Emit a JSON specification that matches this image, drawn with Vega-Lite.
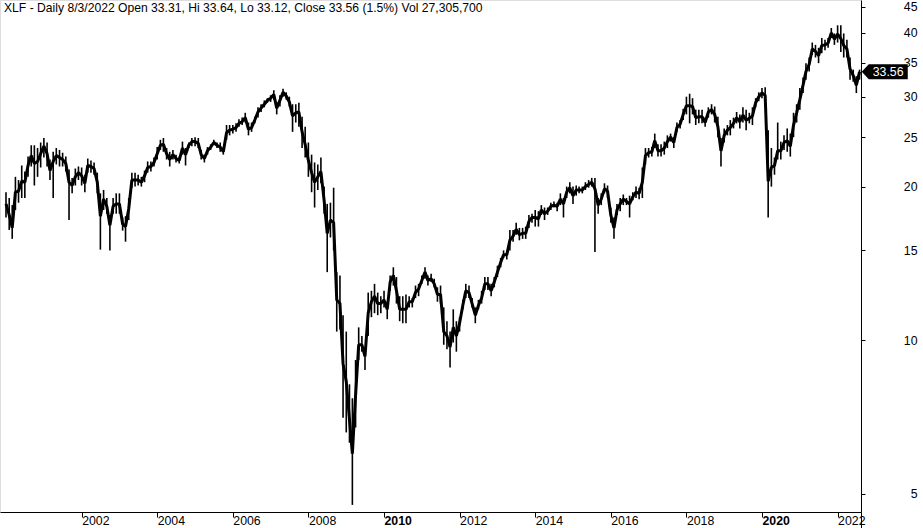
{
  "$schema": "https://vega.github.io/schema/vega-lite/v6.json",
  "width": 861,
  "height": 512,
  "autosize": {"type": "none"},
  "padding": {"left": 0, "top": 0, "right": 62, "bottom": 16},
  "background": "white",
  "title": {
    "text": "XLF - Daily 8/3/2022 Open 33.31, Hi 33.64, Lo 33.12, Close 33.56 (1.5%) Vol 27,305,700",
    "anchor": "start",
    "frame": "group",
    "dx": 4,
    "offset": -14,
    "font": "Liberation Sans",
    "fontSize": 12.15,
    "fontWeight": "normal",
    "color": "black"
  },
  "data": {"values": [
    {"date":"2000-01-01","high":19.5,"low":17.4,"close":18.5},
    {"date":"2000-02-01","high":19.0,"low":16.45,"close":17.6},
    {"date":"2000-03-01","high":18.4,"low":15.8,"close":16.6},
    {"date":"2000-04-01","high":20.9,"low":18.0,"close":19.5},
    {"date":"2000-05-01","high":20.6,"low":18.6,"close":19.6},
    {"date":"2000-06-01","high":22.0,"low":19.0,"close":20.5},
    {"date":"2000-07-01","high":21.4,"low":19.0,"close":20.4},
    {"date":"2000-08-01","high":22.9,"low":20.9,"close":22.0},
    {"date":"2000-09-01","high":24.1,"low":21.9,"close":23.0},
    {"date":"2000-10-01","high":24.1,"low":20.1,"close":22.2},
    {"date":"2000-11-01","high":23.8,"low":20.9,"close":22.4},
    {"date":"2000-12-01","high":24.4,"low":21.8,"close":23.2},
    {"date":"2001-01-01","high":24.9,"low":22.8,"close":24.0},
    {"date":"2001-02-01","high":24.4,"low":21.9,"close":23.2},
    {"date":"2001-03-01","high":22.6,"low":20.6,"close":21.5},
    {"date":"2001-04-01","high":23.4,"low":19.0,"close":22.4},
    {"date":"2001-05-01","high":23.8,"low":22.1,"close":23.0},
    {"date":"2001-06-01","high":23.6,"low":21.9,"close":22.8},
    {"date":"2001-07-01","high":23.3,"low":21.9,"close":22.6},
    {"date":"2001-08-01","high":22.9,"low":21.4,"close":22.2},
    {"date":"2001-09-01","high":21.6,"low":17.2,"close":20.4},
    {"date":"2001-10-01","high":20.8,"low":19.4,"close":20.1},
    {"date":"2001-11-01","high":21.7,"low":20.1,"close":20.9},
    {"date":"2001-12-01","high":21.9,"low":20.6,"close":21.3},
    {"date":"2002-01-01","high":21.8,"low":20.1,"close":21.0},
    {"date":"2002-02-01","high":21.1,"low":19.5,"close":20.3},
    {"date":"2002-03-01","high":22.7,"low":21.3,"close":22.0},
    {"date":"2002-04-01","high":22.5,"low":21.3,"close":21.9},
    {"date":"2002-05-01","high":22.3,"low":21.1,"close":21.7},
    {"date":"2002-06-01","high":21.3,"low":19.4,"close":20.4},
    {"date":"2002-07-01","high":19.4,"low":15.05,"close":17.5},
    {"date":"2002-08-01","high":19.7,"low":18.0,"close":18.9},
    {"date":"2002-09-01","high":19.0,"low":17.7,"close":18.3},
    {"date":"2002-10-01","high":17.6,"low":15.0,"close":16.8},
    {"date":"2002-11-01","high":19.0,"low":17.7,"close":18.3},
    {"date":"2002-12-01","high":19.4,"low":17.7,"close":18.5},
    {"date":"2003-01-01","high":19.4,"low":17.7,"close":18.5},
    {"date":"2003-02-01","high":17.4,"low":16.4,"close":16.9},
    {"date":"2003-03-01","high":17.5,"low":15.6,"close":16.7},
    {"date":"2003-04-01","high":19.0,"low":17.2,"close":18.1},
    {"date":"2003-05-01","high":21.3,"low":19.9,"close":20.6},
    {"date":"2003-06-01","high":21.3,"low":20.0,"close":20.6},
    {"date":"2003-07-01","high":21.1,"low":20.1,"close":20.6},
    {"date":"2003-08-01","high":20.9,"low":20.0,"close":20.4},
    {"date":"2003-09-01","high":21.5,"low":20.4,"close":21.0},
    {"date":"2003-10-01","high":22.4,"low":21.3,"close":21.8},
    {"date":"2003-11-01","high":22.4,"low":21.4,"close":21.9},
    {"date":"2003-12-01","high":22.8,"low":21.9,"close":22.3},
    {"date":"2004-01-01","high":23.9,"low":22.6,"close":23.2},
    {"date":"2004-02-01","high":24.7,"low":23.6,"close":24.1},
    {"date":"2004-03-01","high":24.9,"low":23.4,"close":24.2},
    {"date":"2004-04-01","high":23.8,"low":22.6,"close":23.2},
    {"date":"2004-05-01","high":23.4,"low":21.9,"close":22.6},
    {"date":"2004-06-01","high":23.6,"low":22.6,"close":23.1},
    {"date":"2004-07-01","high":23.1,"low":22.3,"close":22.7},
    {"date":"2004-08-01","high":22.9,"low":22.2,"close":22.5},
    {"date":"2004-09-01","high":24.5,"low":23.1,"close":23.8},
    {"date":"2004-10-01","high":23.8,"low":22.0,"close":23.1},
    {"date":"2004-11-01","high":24.4,"low":23.8,"close":24.1},
    {"date":"2004-12-01","high":24.9,"low":24.0,"close":24.5},
    {"date":"2005-01-01","high":25.0,"low":24.0,"close":24.5},
    {"date":"2005-02-01","high":24.9,"low":23.8,"close":24.3},
    {"date":"2005-03-01","high":23.6,"low":22.6,"close":23.1},
    {"date":"2005-04-01","high":23.1,"low":22.3,"close":22.7},
    {"date":"2005-05-01","high":23.9,"low":23.1,"close":23.5},
    {"date":"2005-06-01","high":24.2,"low":23.6,"close":23.9},
    {"date":"2005-07-01","high":24.7,"low":24.2,"close":24.4},
    {"date":"2005-08-01","high":24.4,"low":23.8,"close":24.1},
    {"date":"2005-09-01","high":24.4,"low":23.4,"close":23.9},
    {"date":"2005-10-01","high":23.8,"low":23.1,"close":23.4},
    {"date":"2005-11-01","high":26.4,"low":24.7,"close":25.5},
    {"date":"2005-12-01","high":26.4,"low":25.2,"close":25.8},
    {"date":"2006-01-01","high":26.4,"low":25.4,"close":25.9},
    {"date":"2006-02-01","high":26.6,"low":25.6,"close":26.1},
    {"date":"2006-03-01","high":27.1,"low":26.2,"close":26.6},
    {"date":"2006-04-01","high":27.3,"low":26.4,"close":26.8},
    {"date":"2006-05-01","high":27.9,"low":26.7,"close":27.3},
    {"date":"2006-06-01","high":26.7,"low":25.2,"close":25.9},
    {"date":"2006-07-01","high":26.7,"low":25.6,"close":26.1},
    {"date":"2006-08-01","high":27.4,"low":26.6,"close":27.0},
    {"date":"2006-09-01","high":28.6,"low":27.3,"close":28.0},
    {"date":"2006-10-01","high":29.0,"low":28.0,"close":28.5},
    {"date":"2006-11-01","high":29.5,"low":28.6,"close":29.0},
    {"date":"2006-12-01","high":29.8,"low":29.2,"close":29.5},
    {"date":"2007-01-01","high":30.2,"low":29.3,"close":29.8},
    {"date":"2007-02-01","high":30.9,"low":29.6,"close":30.3},
    {"date":"2007-03-01","high":29.3,"low":27.7,"close":28.5},
    {"date":"2007-04-01","high":30.2,"low":28.7,"close":29.5},
    {"date":"2007-05-01","high":31.1,"low":30.0,"close":30.6},
    {"date":"2007-06-01","high":30.6,"low":29.6,"close":30.1},
    {"date":"2007-07-01","high":30.0,"low":28.7,"close":29.3},
    {"date":"2007-08-01","high":29.0,"low":25.6,"close":27.5},
    {"date":"2007-09-01","high":29.0,"low":26.7,"close":27.9},
    {"date":"2007-10-01","high":29.2,"low":26.2,"close":28.0},
    {"date":"2007-11-01","high":27.4,"low":23.8,"close":25.6},
    {"date":"2007-12-01","high":26.2,"low":22.8,"close":24.2},
    {"date":"2008-01-01","high":24.4,"low":20.9,"close":22.5},
    {"date":"2008-02-01","high":23.1,"low":19.5,"close":21.3},
    {"date":"2008-03-01","high":22.3,"low":18.2,"close":20.4},
    {"date":"2008-04-01","high":22.1,"low":19.7,"close":20.9},
    {"date":"2008-05-01","high":22.8,"low":20.3,"close":21.4},
    {"date":"2008-06-01","high":20.0,"low":17.7,"close":18.8},
    {"date":"2008-07-01","high":18.5,"low":13.6,"close":16.2},
    {"date":"2008-08-01","high":18.6,"low":15.9,"close":17.2},
    {"date":"2008-09-01","high":19.9,"low":15.0,"close":17.0},
    {"date":"2008-10-01","high":13.6,"low":10.4,"close":12.0},
    {"date":"2008-11-01","high":13.4,"low":10.5,"close":11.8},
    {"date":"2008-12-01","high":11.2,"low":7.05,"close":9.0},
    {"date":"2009-01-01","high":10.4,"low":6.6,"close":8.3},
    {"date":"2009-02-01","high":8.2,"low":6.3,"close":7.0},
    {"date":"2009-03-01","high":7.7,"low":4.76,"close":6.0},
    {"date":"2009-04-01","high":9.15,"low":6.75,"close":7.8},
    {"date":"2009-05-01","high":10.6,"low":9.15,"close":9.8},
    {"date":"2009-06-01","high":10.2,"low":9.5,"close":9.8},
    {"date":"2009-07-01","high":9.7,"low":8.75,"close":9.3},
    {"date":"2009-08-01","high":12.4,"low":10.2,"close":11.3},
    {"date":"2009-09-01","high":12.5,"low":11.1,"close":11.9},
    {"date":"2009-10-01","high":12.9,"low":11.3,"close":12.2},
    {"date":"2009-11-01","high":12.4,"low":11.2,"close":11.8},
    {"date":"2009-12-01","high":12.2,"low":11.3,"close":11.8},
    {"date":"2010-01-01","high":12.5,"low":11.6,"close":12.0},
    {"date":"2010-02-01","high":11.9,"low":11.0,"close":11.5},
    {"date":"2010-03-01","high":13.4,"low":12.5,"close":13.0},
    {"date":"2010-04-01","high":13.9,"low":12.8,"close":13.4},
    {"date":"2010-05-01","high":13.3,"low":11.8,"close":12.5},
    {"date":"2010-06-01","high":12.2,"low":10.9,"close":11.5},
    {"date":"2010-07-01","high":12.2,"low":10.8,"close":11.5},
    {"date":"2010-08-01","high":12.3,"low":10.8,"close":11.5},
    {"date":"2010-09-01","high":12.2,"low":11.6,"close":11.9},
    {"date":"2010-10-01","high":12.1,"low":11.6,"close":11.9},
    {"date":"2010-11-01","high":12.8,"low":12.1,"close":12.4},
    {"date":"2010-12-01","high":12.9,"low":12.2,"close":12.6},
    {"date":"2011-01-01","high":13.4,"low":12.9,"close":13.1},
    {"date":"2011-02-01","high":13.9,"low":13.2,"close":13.6},
    {"date":"2011-03-01","high":13.4,"low":12.8,"close":13.1},
    {"date":"2011-04-01","high":13.5,"low":13.0,"close":13.2},
    {"date":"2011-05-01","high":13.2,"low":12.7,"close":12.9},
    {"date":"2011-06-01","high":12.7,"low":11.9,"close":12.3},
    {"date":"2011-07-01","high":12.8,"low":11.8,"close":12.3},
    {"date":"2011-08-01","high":11.6,"low":9.8,"close":10.4},
    {"date":"2011-09-01","high":10.9,"low":9.6,"close":10.2},
    {"date":"2011-10-01","high":10.4,"low":8.85,"close":9.7},
    {"date":"2011-11-01","high":11.5,"low":9.9,"close":10.6},
    {"date":"2011-12-01","high":10.9,"low":9.5,"close":10.2},
    {"date":"2012-01-01","high":11.1,"low":10.4,"close":10.8},
    {"date":"2012-02-01","high":12.0,"low":11.5,"close":11.7},
    {"date":"2012-03-01","high":12.9,"low":12.1,"close":12.5},
    {"date":"2012-04-01","high":12.8,"low":12.1,"close":12.4},
    {"date":"2012-05-01","high":12.1,"low":11.6,"close":11.8},
    {"date":"2012-06-01","high":11.6,"low":10.8,"close":11.2},
    {"date":"2012-07-01","high":12.0,"low":11.5,"close":11.7},
    {"date":"2012-08-01","high":12.5,"low":11.8,"close":12.1},
    {"date":"2012-09-01","high":13.3,"low":12.55,"close":12.9},
    {"date":"2012-10-01","high":13.3,"low":12.55,"close":12.9},
    {"date":"2012-11-01","high":12.9,"low":12.2,"close":12.5},
    {"date":"2012-12-01","high":13.3,"low":12.7,"close":13.0},
    {"date":"2013-01-01","high":14.0,"low":13.3,"close":13.6},
    {"date":"2013-02-01","high":14.5,"low":13.9,"close":14.2},
    {"date":"2013-03-01","high":15.0,"low":14.5,"close":14.7},
    {"date":"2013-04-01","high":15.0,"low":14.4,"close":14.7},
    {"date":"2013-05-01","high":16.45,"low":15.0,"close":15.7},
    {"date":"2013-06-01","high":16.45,"low":15.6,"close":16.0},
    {"date":"2013-07-01","high":17.0,"low":16.1,"close":16.5},
    {"date":"2013-08-01","high":16.6,"low":15.7,"close":16.1},
    {"date":"2013-09-01","high":16.6,"low":15.8,"close":16.2},
    {"date":"2013-10-01","high":16.7,"low":15.8,"close":16.2},
    {"date":"2013-11-01","high":17.6,"low":16.6,"close":17.1},
    {"date":"2013-12-01","high":17.7,"low":17.0,"close":17.4},
    {"date":"2014-01-01","high":18.0,"low":16.7,"close":17.4},
    {"date":"2014-02-01","high":17.9,"low":16.7,"close":17.3},
    {"date":"2014-03-01","high":18.4,"low":17.6,"close":18.0},
    {"date":"2014-04-01","high":18.2,"low":17.2,"close":17.7},
    {"date":"2014-05-01","high":18.2,"low":17.6,"close":17.9},
    {"date":"2014-06-01","high":18.6,"low":18.0,"close":18.3},
    {"date":"2014-07-01","high":18.7,"low":18.2,"close":18.4},
    {"date":"2014-08-01","high":18.6,"low":17.9,"close":18.3},
    {"date":"2014-09-01","high":19.4,"low":18.4,"close":18.9},
    {"date":"2014-10-01","high":19.0,"low":17.4,"close":18.5},
    {"date":"2014-11-01","high":20.0,"low":19.0,"close":19.5},
    {"date":"2014-12-01","high":20.4,"low":19.4,"close":19.9},
    {"date":"2015-01-01","high":20.0,"low":18.5,"close":19.2},
    {"date":"2015-02-01","high":20.1,"low":19.2,"close":19.7},
    {"date":"2015-03-01","high":20.0,"low":19.4,"close":19.7},
    {"date":"2015-04-01","high":20.0,"low":19.4,"close":19.7},
    {"date":"2015-05-01","high":20.4,"low":19.7,"close":20.0},
    {"date":"2015-06-01","high":20.6,"low":19.9,"close":20.2},
    {"date":"2015-07-01","high":20.8,"low":20.0,"close":20.4},
    {"date":"2015-08-01","high":20.8,"low":14.9,"close":19.8},
    {"date":"2015-09-01","high":19.0,"low":17.7,"close":18.4},
    {"date":"2015-10-01","high":19.4,"low":18.4,"close":18.9},
    {"date":"2015-11-01","high":20.3,"low":19.4,"close":19.8},
    {"date":"2015-12-01","high":20.1,"low":19.0,"close":19.6},
    {"date":"2016-01-01","high":18.2,"low":17.0,"close":17.6},
    {"date":"2016-02-01","high":17.4,"low":15.8,"close":16.6},
    {"date":"2016-03-01","high":18.5,"low":17.6,"close":18.0},
    {"date":"2016-04-01","high":19.0,"low":17.9,"close":18.5},
    {"date":"2016-05-01","high":19.3,"low":18.4,"close":18.9},
    {"date":"2016-06-01","high":19.0,"low":18.4,"close":18.7},
    {"date":"2016-07-01","high":19.2,"low":17.4,"close":18.5},
    {"date":"2016-08-01","high":19.5,"low":18.8,"close":19.1},
    {"date":"2016-09-01","high":20.0,"low":19.0,"close":19.5},
    {"date":"2016-10-01","high":19.9,"low":18.9,"close":19.4},
    {"date":"2016-11-01","high":21.8,"low":19.0,"close":20.4},
    {"date":"2016-12-01","high":23.8,"low":22.1,"close":23.0},
    {"date":"2017-01-01","high":23.8,"low":22.8,"close":23.3},
    {"date":"2017-02-01","high":23.9,"low":22.9,"close":23.4},
    {"date":"2017-03-01","high":25.4,"low":23.8,"close":24.6},
    {"date":"2017-04-01","high":24.2,"low":22.9,"close":23.5},
    {"date":"2017-05-01","high":24.2,"low":22.9,"close":23.5},
    {"date":"2017-06-01","high":24.5,"low":23.1,"close":23.8},
    {"date":"2017-07-01","high":25.2,"low":23.8,"close":24.5},
    {"date":"2017-08-01","high":25.4,"low":24.5,"close":25.0},
    {"date":"2017-09-01","high":25.0,"low":23.8,"close":24.4},
    {"date":"2017-10-01","high":26.7,"low":25.6,"close":26.1},
    {"date":"2017-11-01","high":27.0,"low":26.0,"close":26.5},
    {"date":"2017-12-01","high":28.4,"low":27.0,"close":27.7},
    {"date":"2018-01-01","high":30.0,"low":27.7,"close":28.8},
    {"date":"2018-02-01","high":30.4,"low":26.6,"close":28.8},
    {"date":"2018-03-01","high":29.8,"low":27.7,"close":28.7},
    {"date":"2018-04-01","high":28.3,"low":26.4,"close":27.3},
    {"date":"2018-05-01","high":28.3,"low":26.6,"close":27.4},
    {"date":"2018-06-01","high":28.3,"low":26.6,"close":27.4},
    {"date":"2018-07-01","high":27.3,"low":26.2,"close":26.7},
    {"date":"2018-08-01","high":28.6,"low":27.3,"close":28.0},
    {"date":"2018-09-01","high":29.0,"low":27.7,"close":28.3},
    {"date":"2018-10-01","high":28.7,"low":26.7,"close":27.7},
    {"date":"2018-11-01","high":27.4,"low":25.0,"close":26.2},
    {"date":"2018-12-01","high":24.9,"low":21.9,"close":23.5},
    {"date":"2019-01-01","high":26.0,"low":24.4,"close":25.2},
    {"date":"2019-02-01","high":26.4,"low":25.2,"close":25.8},
    {"date":"2019-03-01","high":27.0,"low":25.2,"close":26.1},
    {"date":"2019-04-01","high":27.3,"low":26.0,"close":26.6},
    {"date":"2019-05-01","high":28.0,"low":26.6,"close":27.3},
    {"date":"2019-06-01","high":27.7,"low":26.0,"close":26.8},
    {"date":"2019-07-01","high":28.6,"low":26.7,"close":27.6},
    {"date":"2019-08-01","high":28.3,"low":25.8,"close":27.0},
    {"date":"2019-09-01","high":27.9,"low":26.6,"close":27.2},
    {"date":"2019-10-01","high":28.6,"low":26.4,"close":27.5},
    {"date":"2019-11-01","high":29.8,"low":28.6,"close":29.2},
    {"date":"2019-12-01","high":30.6,"low":29.4,"close":30.0},
    {"date":"2020-01-01","high":31.2,"low":29.8,"close":30.5},
    {"date":"2020-02-01","high":31.3,"low":28.6,"close":30.2},
    {"date":"2020-03-01","high":25.8,"low":17.4,"close":20.5},
    {"date":"2020-04-01","high":23.8,"low":20.0,"close":21.8},
    {"date":"2020-05-01","high":22.8,"low":21.1,"close":22.0},
    {"date":"2020-06-01","high":26.7,"low":22.6,"close":23.5},
    {"date":"2020-07-01","high":24.5,"low":22.6,"close":23.5},
    {"date":"2020-08-01","high":25.2,"low":23.6,"close":24.4},
    {"date":"2020-09-01","high":26.0,"low":23.4,"close":24.6},
    {"date":"2020-10-01","high":25.4,"low":22.9,"close":24.0},
    {"date":"2020-11-01","high":27.9,"low":25.0,"close":26.4},
    {"date":"2020-12-01","high":29.0,"low":26.7,"close":27.9},
    {"date":"2021-01-01","high":31.2,"low":28.3,"close":29.6},
    {"date":"2021-02-01","high":32.7,"low":30.5,"close":31.6},
    {"date":"2021-03-01","high":34.9,"low":32.4,"close":33.6},
    {"date":"2021-04-01","high":35.8,"low":33.6,"close":34.7},
    {"date":"2021-05-01","high":38.3,"low":36.2,"close":37.2},
    {"date":"2021-06-01","high":37.9,"low":35.8,"close":36.8},
    {"date":"2021-07-01","high":37.4,"low":34.9,"close":36.1},
    {"date":"2021-08-01","high":39.1,"low":36.5,"close":37.8},
    {"date":"2021-09-01","high":38.8,"low":37.0,"close":37.9},
    {"date":"2021-10-01","high":39.1,"low":37.4,"close":38.2},
    {"date":"2021-11-01","high":40.9,"low":39.1,"close":40.0},
    {"date":"2021-12-01","high":39.9,"low":37.9,"close":38.9},
    {"date":"2022-01-01","high":41.4,"low":38.3,"close":39.8},
    {"date":"2022-02-01","high":41.4,"low":36.7,"close":39.0},
    {"date":"2022-03-01","high":39.9,"low":35.8,"close":37.8},
    {"date":"2022-04-01","high":38.8,"low":35.8,"close":37.2},
    {"date":"2022-05-01","high":35.8,"low":32.4,"close":34.0},
    {"date":"2022-06-01","high":33.9,"low":32.1,"close":33.0},
    {"date":"2022-07-01","high":32.9,"low":30.5,"close":31.6},
    {"date":"2022-08-01","high":33.9,"low":32.4,"close":33.56}
  ]},
  "encoding": {
    "x": {
      "field": "date",
      "type": "temporal",
      "title": null,
      "scale": {"domain": ["1999-11-04", "2022-08-15"]},
      "axis": {
        "values": ["2002-01-01","2004-01-01","2006-01-01","2008-01-01","2010-01-01","2012-01-01","2014-01-01","2016-01-01","2018-01-01","2020-01-01","2022-01-01","2022-08-15"],
        "format": "%Y",
        "labelExpr": "year(datum.value) == 2022 && month(datum.value) > 5 ? '' : datum.label",
        "grid": false,
        "domainColor": "black",
        "tickColor": "black",
        "tickSize": {"condition": {"test": "year(datum.value) == 2022 && month(datum.value) > 5", "value": 16}, "value": 5},
        "labelAlign": "left",
        "labelBaseline": "top",
        "labelPadding": -3,
        "labelFlush": false,
        "labelOverlap": false,
        "labelDx": 3,
        "labelFont": "Liberation Sans",
        "labelFontSize": 12.3,
        "labelColor": "black",
        "labelFontWeight": {"condition": {"test": "year(datum.value) == 2010 || year(datum.value) == 2020", "value": "bold"}, "value": "normal"}
      }
    }
  },
  "layer": [
    {
      "mark": {"type": "rule", "color": "black", "strokeWidth": 1.6},
      "encoding": {
        "y": {
          "field": "low",
          "type": "quantitative",
          "title": null,
          "scale": {"type": "log", "domain": [4.61, 46.4], "nice": false, "zero": false},
          "axis": {
            "orient": "right",
            "values": [5,10,15,20,25,30,35,40,45],
            "format": "d",
            "grid": false,
            "domainColor": "black",
            "tickColor": "black",
            "tickSize": 4,
            "labelAlign": "right",
            "labelPadding": 52,
            "labelFont": "Liberation Sans",
            "labelFontSize": 12.3,
            "labelColor": "black",
            "labelOverlap": false
          }
        },
        "y2": {"field": "high"}
      }
    },
    {
      "mark": {"type": "line", "color": "black", "strokeWidth": 3, "strokeJoin": "bevel"},
      "encoding": {"y": {"field": "close", "type": "quantitative"}}
    },
    {
      "data": {"values": [{"date": "2022-08-03", "price": 33.56, "label": "33.56"}]},
      "mark": {"type": "point", "shape": "M2 0 L9 -7.5 L48 -7.5 L48 7.5 L9 7.5 Z", "size": 4, "filled": true, "color": "black", "opacity": 1},
      "encoding": {"y": {"field": "price", "type": "quantitative"}}
    },
    {
      "data": {"values": [{"date": "2022-08-03", "price": 33.56, "label": "33.56"}]},
      "mark": {"type": "text", "align": "left", "dx": 13, "color": "white", "font": "Liberation Sans", "fontSize": 12.3},
      "encoding": {"y": {"field": "price", "type": "quantitative"}, "text": {"field": "label"}}
    }
  ]
}
